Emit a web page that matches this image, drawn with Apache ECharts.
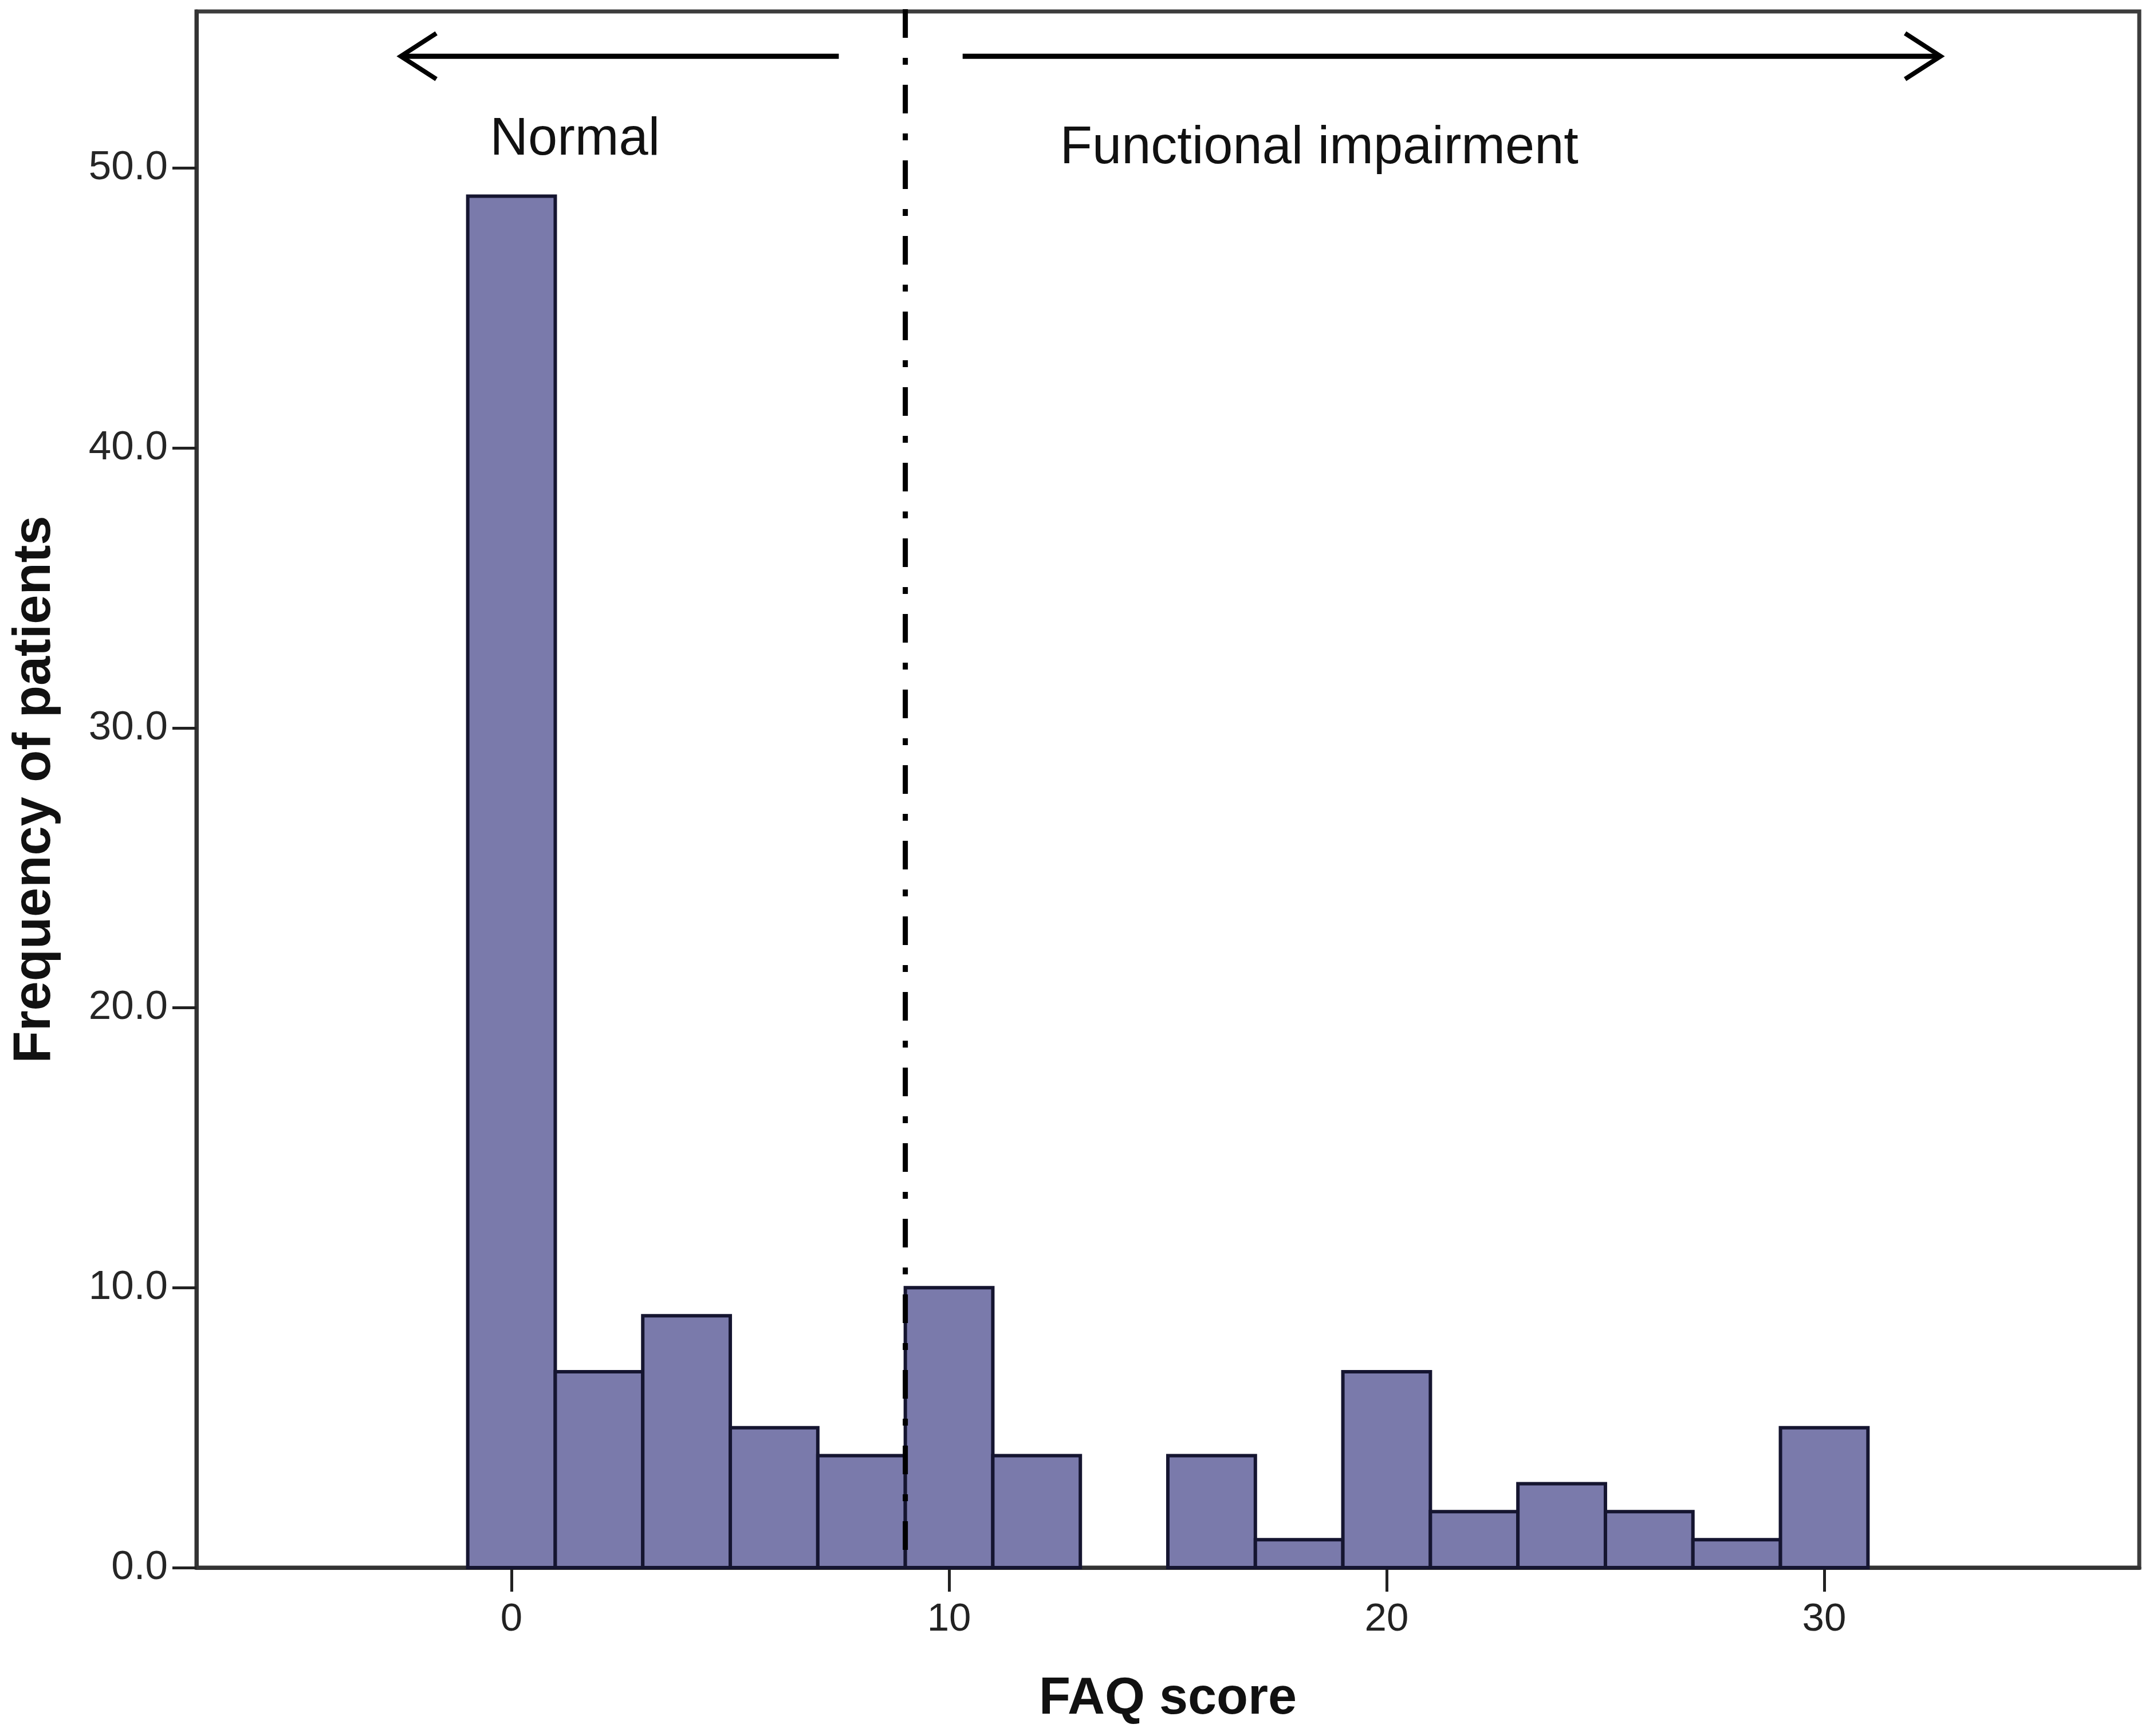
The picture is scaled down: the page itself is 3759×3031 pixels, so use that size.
<!DOCTYPE html>
<html><head><meta charset="utf-8">
<script src="https://cdn.jsdelivr.net/npm/echarts@6/dist/echarts.min.js"></script>
<style>html,body{margin:0;padding:0;background:#fff}#c{width:3759px;height:3031px}</style>
</head><body><div id="c"></div>
<script>
// ---- data ----
const binCenters = [0, 2, 4, 6, 8, 10, 12, 14, 16, 18, 20, 22, 24, 26, 28, 30];
const counts     = [49, 7, 9, 5, 4, 10, 4, 0, 4, 1, 7, 2, 3, 2, 1, 5];
const binWidth = 2;
const xTickValues = [0, 10, 20, 30];
const yTickValues = [0, 10, 20, 30, 40, 50];
const cutoffScore = 9;
// arrows: [tail x, tip x, y]
const arrowTail = [7.48, 10.31];
const arrowTip  = [-2.53, 32.66];
const arrowY    = [54.0, 54.0];
// annotation labels
const noteTexts = ['Normal', 'Functional impairment'];
const noteX = [1.45, 18.46];
const noteY = [51.0, 50.7];

const X_MIN = -7.2, X_MAX = 37.2, Y_MIN = 0, Y_MAX = 55.6;
const FONT = "'Liberation Sans', Arial, sans-serif";

const chart = echarts.init(document.getElementById('c'), null, {renderer: 'canvas'});

const barData = [];
binCenters.forEach((c, i) => { if (counts[i] > 0) barData.push([c, counts[i]]); });

const option = {
  animation: false,
  backgroundColor: '#ffffff',
  grid: {
    left: 343, right: 24, top: 20, bottom: 294,
    show: true, borderColor: '#3c3c3c', borderWidth: 7,
    containLabel: false, outerBoundsMode: 'none'
  },
  xAxis: {
    type: 'value', min: X_MIN, max: X_MAX,
    axisLine: {show: true, onZero: false, lineStyle: {color: '#333', width: 7}},
    axisTick: {show: true, customValues: xTickValues, length: 42, lineStyle: {color: '#222', width: 5}},
    axisLabel: {customValues: xTickValues, margin: 56, fontSize: 69, color: '#222', fontFamily: FONT},
    splitLine: {show: false},
    name: 'FAQ score', nameLocation: 'middle', nameGap: 185,
    nameTextStyle: {fontSize: 90, fontWeight: 'bold', color: '#111', fontFamily: FONT}
  },
  yAxis: {
    type: 'value', min: Y_MIN, max: Y_MAX,
    axisLine: {show: true, onZero: false, lineStyle: {color: '#333', width: 7}},
    axisTick: {show: true, customValues: yTickValues, length: 42, lineStyle: {color: '#222', width: 5}},
    axisLabel: {customValues: yTickValues, margin: 50, fontSize: 71, color: '#262626', fontFamily: FONT,
      formatter: v => Number(v).toFixed(1)},
    splitLine: {show: false},
    name: 'Frequency of patients', nameLocation: 'middle', nameGap: 235, nameRotate: 90,
    nameTextStyle: {fontSize: 92, fontWeight: 'bold', color: '#111', fontFamily: FONT}
  },
  series: [
    {
      type: 'custom', name: 'bars', z: 3,
      data: barData,
      renderItem: (params, api) => {
        const c = api.value(0), v = api.value(1);
        const p1 = api.coord([c - binWidth / 2, v]);
        const p2 = api.coord([c + binWidth / 2, 0]);
        return {
          type: 'rect',
          shape: {x: p1[0], y: p1[1], width: p2[0] - p1[0], height: p2[1] - p1[1]},
          style: {fill: '#7a7aab', stroke: '#151530', lineWidth: 6}
        };
      }
    },
    {
      type: 'custom', name: 'cutoff', z: 4,
      data: [[cutoffScore]],
      renderItem: (params, api) => {
        const x = api.value(0);
        const a = api.coord([x, Y_MAX]);
        const b = api.coord([x, 0]);
        return {
          type: 'line',
          shape: {x1: a[0], y1: a[1] - 4, x2: b[0], y2: b[1]},
          style: {stroke: '#000', lineWidth: 9, lineDash: [50, 35, 12, 35], lineDashOffset: 0}
        };
      }
    },
    {
      type: 'custom', name: 'arrows', z: 5,
      data: arrowTail.map((t, i) => [t, arrowTip[i], arrowY[i]]),
      renderItem: (params, api) => {
        const tail = api.coord([api.value(0), api.value(2)]);
        const tip = api.coord([api.value(1), api.value(2)]);
        const dir = tip[0] > tail[0] ? 1 : -1;
        const depth = 62, half = 40;
        return {
          type: 'group',
          children: [
            {type: 'line', shape: {x1: tail[0], y1: tail[1], x2: tip[0] - dir * 4, y2: tip[1]},
              style: {stroke: '#000', lineWidth: 9}},
            {type: 'polyline', shape: {points: [[tip[0] - dir * depth, tip[1] - half], [tip[0], tip[1]], [tip[0] - dir * depth, tip[1] + half]]},
              style: {stroke: '#000', lineWidth: 8, fill: null, lineJoin: 'miter'}}
          ]
        };
      }
    },
    {
      type: 'custom', name: 'notes', z: 6,
      data: noteTexts.map((t, i) => ({value: [noteX[i], noteY[i]], name: t})),
      renderItem: (params, api) => {
        const p = api.coord([api.value(0), api.value(1)]);
        return {
          type: 'text', x: p[0], y: p[1],
          style: {text: noteTexts[params.dataIndex], fontSize: 92, fontFamily: FONT, fill: '#111',
            align: 'center', verticalAlign: 'middle'}
        };
      }
    }
  ]
};
chart.setOption(option);
</script>
</body></html>
